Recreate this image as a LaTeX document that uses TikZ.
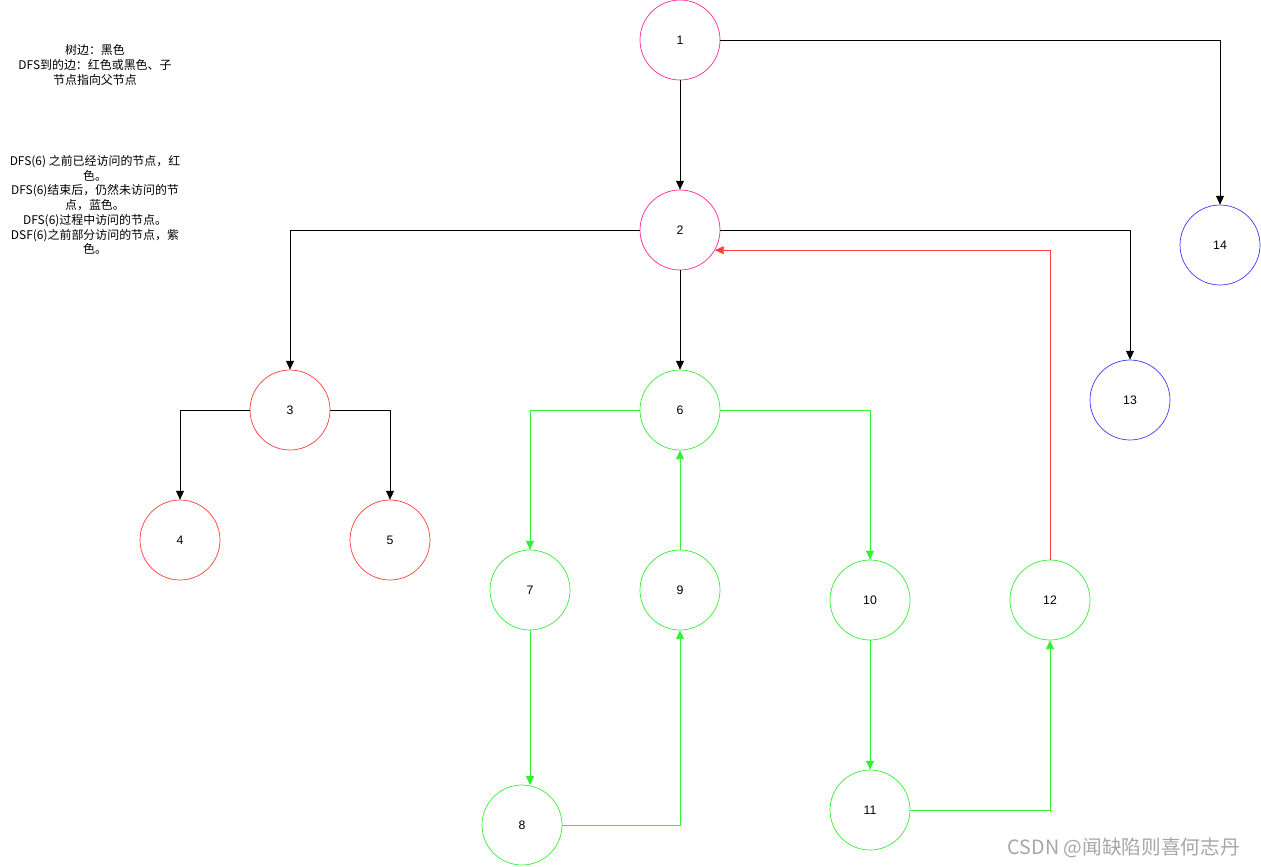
\documentclass[tikz,border=0pt]{standalone}
\usepackage{fontspec}
\setmainfont{Liberation Sans}
\newfontfamily\cjk{Noto Sans CJK SC}
\usetikzlibrary{arrows.meta}

\definecolor{pinkline}{RGB}{255,40,150}
\definecolor{redline}{RGB}{255,60,60}
\definecolor{greenline}{RGB}{50,240,50}
\definecolor{blueline}{RGB}{60,60,255}

\tikzset{
  vert/.style={circle, draw, minimum size=1.6cm, inner sep=0pt, font=\fontsize{7}{8}\selectfont},
  edge/.style={-{Triangle[length=5pt,width=4.5pt]}, draw=black, line width=0.5pt},
  note/.style={align=center, font=\cjk\fontsize{6.8}{8.4}\selectfont}
}

\begin{document}
\begin{tikzpicture}[x=0.02cm, y=-0.02cm]
  \useasboundingbox (0,0) rectangle (1261,866);

  % vertices
  \node[vert, draw=pinkline] (n1) at (680,40) {1};
  \node[vert, draw=pinkline] (n2) at (680,230) {2};
  \node[vert, draw=redline] (n3) at (290,410) {3};
  \node[vert, draw=redline] (n4) at (180,540) {4};
  \node[vert, draw=redline] (n5) at (390,540) {5};
  \node[vert, draw=greenline] (n6) at (680,410) {6};
  \node[vert, draw=greenline] (n7) at (530,590) {7};
  \node[vert, draw=greenline] (n8) at (522,825) {8};
  \node[vert, draw=greenline] (n9) at (680,590) {9};
  \node[vert, draw=greenline] (n10) at (870,600) {10};
  \node[vert, draw=greenline] (n11) at (870,810) {11};
  \node[vert, draw=greenline] (n12) at (1050,600) {12};
  \node[vert, draw=blueline] (n13) at (1130,400) {13};
  \node[vert, draw=blueline] (n14) at (1220,245) {14};

  % tree edges
  \draw[edge] (n1) -- (n2);
  \draw[edge] (n1) -| (n14);
  \draw[edge] (n2) -| (n3);
  \draw[edge] (n2) -- (n6);
  \draw[edge] (n2) -| (n13);
  \draw[edge] (n3) -| (n4);
  \draw[edge] (n3) -| (n5);

  % edges found during DFS(6)
  \draw[edge, draw=greenline, -{Triangle[length=5pt,width=4.5pt,fill=greenline]}] (n6) -| (n7);
  \draw[edge, draw=greenline, -{Triangle[length=5pt,width=4.5pt,fill=greenline]}] (n6) -| (n10);
  \coordinate (c8) at (530,785);
  \draw[edge, draw=greenline, -{Triangle[length=5pt,width=4.5pt,fill=greenline]}] (n7.south -| c8) -- (c8);
  \draw[edge, draw=greenline, -{Triangle[length=5pt,width=4.5pt,fill=greenline]}] (n8) -| (n9);
  \draw[edge, draw=greenline, -{Triangle[length=5pt,width=4.5pt,fill=greenline]}] (n9) -- (n6);
  \draw[edge, draw=greenline, -{Triangle[length=5pt,width=4.5pt,fill=greenline]}] (n10) -- (n11);
  \draw[edge, draw=greenline, -{Triangle[length=5pt,width=4.5pt,fill=greenline]}] (n11) -| (n12);
  \draw[edge, draw=redline, -{Triangle[length=5pt,width=4.5pt,fill=redline]}] (n12) |- (n2.-30);

  % notes
  \node[note] (legend) at (95,65) {树边：黑色\\DFS到的边：红色或黑色、子\\节点指向父节点};
  \node[note] (colors) at (95,205) {DFS(6) 之前已经访问的节点，红\\色。\\DFS(6)结束后，仍然未访问的节\\点，蓝色。\\DFS(6)过程中访问的节点。\\DSF(6)之前部分访问的节点，紫\\色。};
  \node[font=\cjk\fontsize{11.2}{13}\selectfont, text=black!35, anchor=east] (mark) at (1246,848) {CSDN @闻缺陷则喜何志丹};
\end{tikzpicture}
\end{document}
